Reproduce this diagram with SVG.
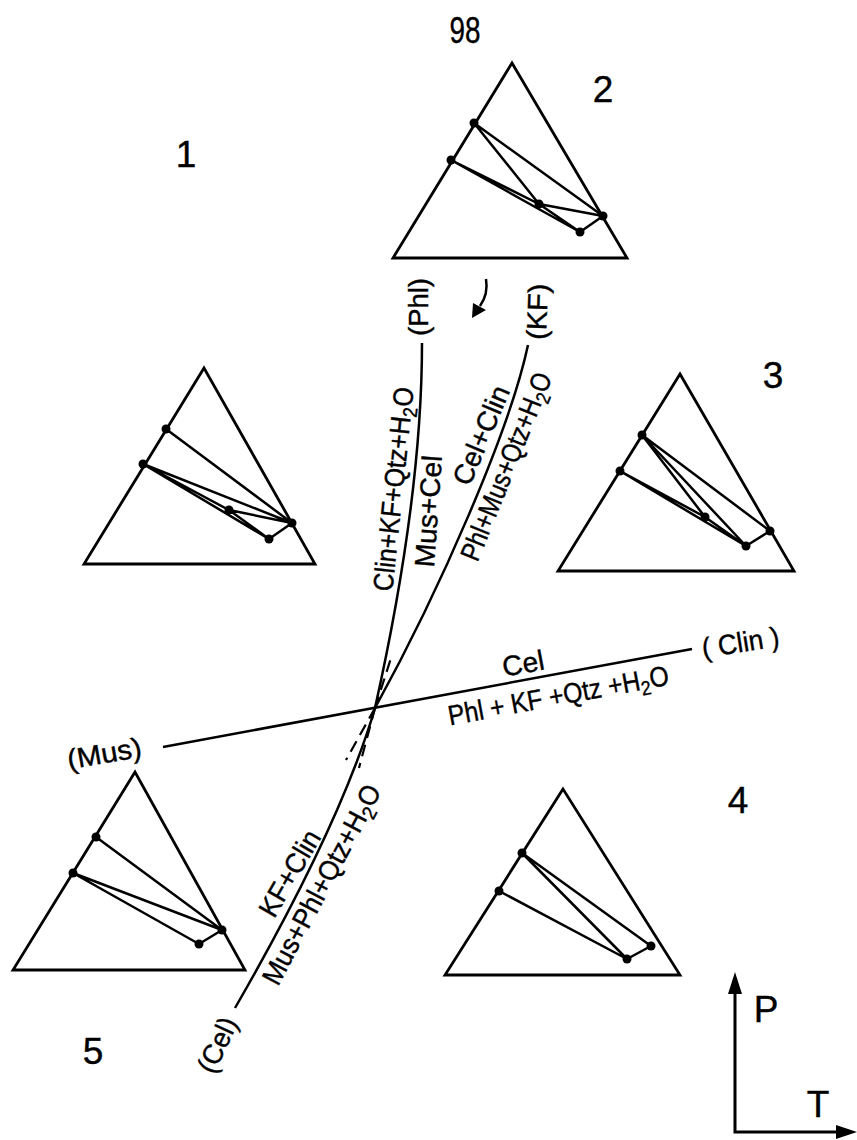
<svg xmlns="http://www.w3.org/2000/svg" width="857" height="1140" viewBox="0 0 857 1140">
<style>
.tri{fill:none;stroke:#000;stroke-width:2.8;stroke-linejoin:miter}
.tie{fill:none;stroke:#000;stroke-width:2.5;stroke-linecap:round}
.dot{fill:#000}
.cv{fill:none;stroke:#000;stroke-width:2.5}
.dash{fill:none;stroke:#000;stroke-width:2.2;stroke-dasharray:12 7}
.lbl{font-family:"Liberation Sans",Arial,sans-serif;font-size:28px;fill:#000;stroke:#000;stroke-width:0.4;text-anchor:middle}
.num{font-family:"Liberation Sans",Arial,sans-serif;font-size:37px;fill:#000;stroke:#000;stroke-width:0.4;text-anchor:middle}
</style>
<rect width="857" height="1140" fill="#fff"/>

<g id="num-98"><text class="num" x="465" y="43" font-size="39" textLength="31" lengthAdjust="spacingAndGlyphs">98</text></g>
<g id="num-1"><text class="num" x="186" y="167">1</text></g>
<g id="num-2"><text class="num" x="603" y="102">2</text></g>
<g id="num-3"><text class="num" x="773" y="388">3</text></g>
<g id="num-4"><text class="num" x="738" y="813">4</text></g>
<g id="num-5"><text class="num" x="93" y="1064">5</text></g>

<g id="triangle-2">
<polygon class="tri" points="512,63 393,258 627,258"/>
<path class="tie" d="M474,123L603,216M474,123L539,204M451,160L539,204M451,160L580,232M539,204L580,232M539,204L603,216M603,216L580,232"/>
<circle class="dot" cx="474" cy="123" r="4.5"/><circle class="dot" cx="451" cy="160" r="4.5"/><circle class="dot" cx="539" cy="204" r="4.5"/><circle class="dot" cx="603" cy="216" r="4.5"/><circle class="dot" cx="580" cy="232" r="4.5"/>
</g>

<g id="triangle-1">
<polygon class="tri" points="204,368 84,564 315,564"/>
<path class="tie" d="M166,429L292,523M143,464L292,523M143,464L229,510M143,464L269,539M229,510L269,539M229,510L292,523M292,523L269,539"/>
<circle class="dot" cx="166" cy="429" r="4.5"/><circle class="dot" cx="143" cy="464" r="4.5"/><circle class="dot" cx="229" cy="510" r="4.5"/><circle class="dot" cx="292" cy="523" r="4.5"/><circle class="dot" cx="269" cy="539" r="4.5"/>
</g>

<g id="triangle-3">
<polygon class="tri" points="680,374 558,571 794,571"/>
<path class="tie" d="M642,435L770,531M642,435L705,517M642,435L746,546M620,471L705,517M620,471L746,546M705,517L746,546M770,531L746,546"/>
<circle class="dot" cx="642" cy="435" r="4.5"/><circle class="dot" cx="620" cy="471" r="4.5"/><circle class="dot" cx="705" cy="517" r="4.5"/><circle class="dot" cx="770" cy="531" r="4.5"/><circle class="dot" cx="746" cy="546" r="4.5"/>
</g>

<g id="triangle-5">
<polygon class="tri" points="135,772 13,970 245,970"/>
<path class="tie" d="M96,837L222,930M73,873L222,930M73,873L199,944M199,944L222,930"/>
<circle class="dot" cx="96" cy="837" r="4.5"/><circle class="dot" cx="73" cy="873" r="4.5"/><circle class="dot" cx="222" cy="930" r="4.5"/><circle class="dot" cx="199" cy="944" r="4.5"/>
</g>

<g id="triangle-4">
<polygon class="tri" points="563,789 445,975 680,975"/>
<path class="tie" d="M522,853L651,946M522,853L627,959M499,891L627,959M627,959L651,946"/>
<circle class="dot" cx="522" cy="853" r="4.5"/><circle class="dot" cx="499" cy="891" r="4.5"/><circle class="dot" cx="651" cy="946" r="4.5"/><circle class="dot" cx="627" cy="959" r="4.5"/>
</g>

<g id="connectors">
<path class="cv" d="M422,343 C422,440 408,560 375,708"/>
<path class="cv" d="M528,345 C510,430 440,590 375,708"/>
<path class="cv" d="M235,1008 C280,930 345,810 375,708"/>
<path class="cv" d="M163,747 L692,649"/>
<path class="dash" d="M375,708 L359,768"/>
<path class="dash" d="M375,708 L346,760"/>
<path class="dash" d="M375,708 L391,658"/>
<path class="cv" stroke-width="3.2" d="M486,279 C488,291 485,299 480,306"/>
<polygon points="472,318 473,303 486,310"/>
<path fill="none" stroke="#000" stroke-width="3" d="M735,990 L735,1132 L840,1132"/>
<polygon points="735,972 728,994 742,994"/>
<polygon points="857,1132 836,1125 836,1139"/>
</g>

<g id="labels">
<text class="lbl" transform="translate(428,307) rotate(-90)" textLength="58" lengthAdjust="spacingAndGlyphs">(Phl)</text>
<text class="lbl" transform="translate(547,312) rotate(-88)" textLength="56" lengthAdjust="spacingAndGlyphs">(KF)</text>
<text class="lbl" transform="translate(403,490) rotate(-84)" textLength="205" lengthAdjust="spacingAndGlyphs">Clin+KF+Qtz+H<tspan font-size="20" dy="6">2</tspan><tspan dy="-6">O</tspan></text>
<text class="lbl" transform="translate(438,512) rotate(-86)" textLength="112" lengthAdjust="spacingAndGlyphs">Mus+Cel</text>
<text class="lbl" transform="translate(490,439) rotate(-67)" textLength="105" lengthAdjust="spacingAndGlyphs">Cel+Clin</text>
<text class="lbl" transform="translate(515,470) rotate(-68)" textLength="200" lengthAdjust="spacingAndGlyphs">Phl+Mus+Qtz+H<tspan font-size="20" dy="6">2</tspan><tspan dy="-6">O</tspan></text>
<text class="lbl" transform="translate(525,673) rotate(-10.5)" textLength="42" lengthAdjust="spacingAndGlyphs">Cel</text>
<text class="lbl" transform="translate(560,705) rotate(-10.5)" textLength="224" lengthAdjust="spacingAndGlyphs">Phl + KF +Qtz +H<tspan font-size="20" dy="6">2</tspan><tspan dy="-6">O</tspan></text>
<text class="lbl" transform="translate(742,652) rotate(-9)" textLength="78" lengthAdjust="spacingAndGlyphs">( Clin )</text>
<text class="lbl" transform="translate(106,763) rotate(-10)" textLength="75" lengthAdjust="spacingAndGlyphs">(Mus)</text>
<text class="lbl" transform="translate(298,878) rotate(-60)" textLength="95" lengthAdjust="spacingAndGlyphs">KF+Clin</text>
<text class="lbl" transform="translate(330,889) rotate(-62)" textLength="222" lengthAdjust="spacingAndGlyphs">Mus+Phl+Qtz+H<tspan font-size="20" dy="6">2</tspan><tspan dy="-6">O</tspan></text>
<text class="lbl" transform="translate(226,1049) rotate(-65)" textLength="58" lengthAdjust="spacingAndGlyphs">(Cel)</text>
<text class="num" x="766" y="1022" font-size="34">P</text>
<text class="num" x="818" y="1117" font-size="34">T</text>
</g>
</svg>
